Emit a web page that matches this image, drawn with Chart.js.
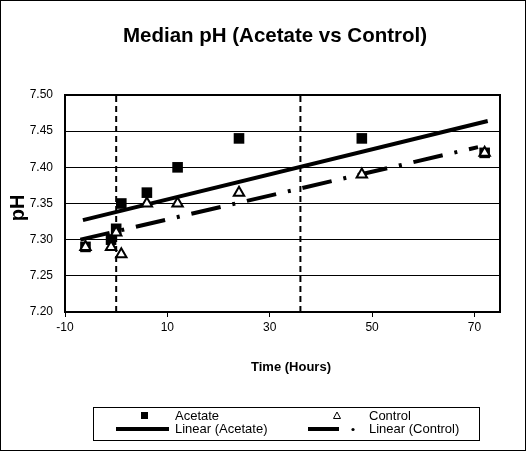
<!DOCTYPE html>
<html lang="en">
<head>
<meta charset="UTF-8">
<title>Median pH (Acetate vs Control)</title>
<script src="https://cdn.jsdelivr.net/npm/chart.js"></script>
<style>
  html, body { margin: 0; padding: 0; background: #fff; }
</style>
</head>
<body>
<canvas id="phChart" width="526" height="451"></canvas>
<script>
// values
const acetateHours = [-6, -1, 0, 1, 6, 12, 24, 48, 72];
const acetatePH = [7.29, 7.30, 7.315, 7.35, 7.365, 7.40, 7.44, 7.44, 7.42];
const controlHours = [-6, -1, 0, 1, 6, 12, 24, 48, 72];
const controlPH = [7.29, 7.29, 7.31, 7.28, 7.35, 7.35, 7.365, 7.39, 7.42];

// end points of the two trendlines
const acetateFitHours = [-6.5, 72.6];
const acetateFitPH = [7.327, 7.464];
const controlFitHours = [-7, 70.7];
const controlFitPH = [7.30, 7.428];

// dashed vertical marker lines
const markerHours = [0, 36];

const xTicks = [-10, 10, 30, 50, 70];
const yTicks = [7.20, 7.25, 7.30, 7.35, 7.40, 7.45, 7.50];

const FONT = "'Liberation Sans', Arial, sans-serif";
const CONTROL_DASH = [30, 12, 3, 12];

function pairs(xs, ys) {
    return xs.map((x, i) => ({ x: x, y: ys[i] }));
}

Chart.defaults.font.family = FONT;
Chart.defaults.color = '#000';

const markerSets = markerHours.map(h => ({
    type: 'line',
    data: [{ x: h, y: yTicks[0] }, { x: h, y: yTicks[yTicks.length - 1] }],
    borderColor: '#000',
    borderWidth: 2,
    borderDash: [6, 4],
    pointRadius: 0,
    order: 5
}));

// title, axis titles, plot frame and the boxed legend
const decorations = {
    id: 'decorations',
    beforeDraw(chart) {
        const ctx = chart.ctx;
        ctx.save();
        ctx.fillStyle = '#fff';
        ctx.fillRect(0, 0, chart.width, chart.height);
        ctx.restore();
    },
    afterDraw(chart) {
        const ctx = chart.ctx;
        const a = chart.chartArea;
        ctx.save();
        ctx.strokeStyle = '#000';
        ctx.fillStyle = '#000';

        ctx.lineWidth = 2;
        ctx.strokeRect(a.left, a.top, a.right - a.left, a.bottom - a.top);

        ctx.lineWidth = 1;
        ctx.strokeRect(0.5, 0.5, chart.width - 1, chart.height - 1);

        ctx.textAlign = 'center';
        ctx.textBaseline = 'middle';
        ctx.font = 'bold 20.5px ' + FONT;
        ctx.fillText('Median pH (Acetate vs Control)', 275, 36);

        ctx.font = 'bold 13px ' + FONT;
        ctx.fillText('Time (Hours)', 291, 367);

        ctx.save();
        ctx.translate(18, 208);
        ctx.rotate(-Math.PI / 2);
        ctx.font = 'bold 20px ' + FONT;
        ctx.fillText('pH', 0, 0);
        ctx.restore();

        // legend box
        ctx.strokeRect(93.5, 407.5, 386, 33);
        ctx.font = '13px ' + FONT;
        ctx.textAlign = 'left';
        ctx.fillText('Acetate', 175, 416);
        ctx.fillText('Control', 369, 416);
        ctx.fillText('Linear (Acetate)', 175, 429);
        ctx.fillText('Linear (Control)', 369, 429);

        ctx.fillRect(141, 412, 7, 7);

        ctx.beginPath();
        ctx.moveTo(337, 412);
        ctx.lineTo(340.5, 418.5);
        ctx.lineTo(333.5, 418.5);
        ctx.closePath();
        ctx.lineWidth = 1;
        ctx.stroke();

        ctx.lineWidth = 4;
        ctx.beginPath();
        ctx.moveTo(116, 429);
        ctx.lineTo(169, 429);
        ctx.stroke();

        ctx.beginPath();
        ctx.moveTo(308, 429);
        ctx.lineTo(339, 429);
        ctx.stroke();
        ctx.beginPath();
        ctx.arc(353, 429.5, 1.6, 0, Math.PI * 2);
        ctx.fill();
        ctx.restore();
    }
};

new Chart(document.getElementById('phChart'), {
    type: 'scatter',
    data: {
        datasets: [
            {
                label: 'Acetate',
                data: pairs(acetateHours, acetatePH),
                pointStyle: 'rect',
                pointRadius: 7.5,
                pointBackgroundColor: '#000',
                pointBorderColor: '#000',
                pointBorderWidth: 0,
                order: 2
            },
            {
                label: 'Control',
                data: pairs(controlHours, controlPH),
                pointStyle: 'triangle',
                pointRadius: 6,
                pointBackgroundColor: '#fff',
                pointBorderColor: '#000',
                pointBorderWidth: 2,
                order: 1
            },
            {
                type: 'line',
                label: 'Linear (Acetate)',
                data: pairs(acetateFitHours, acetateFitPH),
                borderColor: '#000',
                borderWidth: 4,
                pointRadius: 0,
                order: 3
            },
            {
                type: 'line',
                label: 'Linear (Control)',
                data: pairs(controlFitHours, controlFitPH),
                borderColor: '#000',
                borderWidth: 4,
                borderDash: CONTROL_DASH,
                pointRadius: 0,
                order: 4
            },
            ...markerSets
        ]
    },
    options: {
        responsive: false,
        animation: false,
        layout: { padding: { top: 95, right: 26, bottom: 71, left: 0 } },
        plugins: {
            legend: { display: false },
            tooltip: { enabled: false }
        },
        scales: {
            x: {
                type: 'linear',
                min: -10,
                max: 75,
                afterBuildTicks: s => { s.ticks = xTicks.map(v => ({ value: v })); },
                afterFit: s => { s.height = 68; },
                ticks: { font: { size: 12 }, padding: 3, maxRotation: 0 },
                grid: { drawOnChartArea: false, tickLength: 5, color: '#000', lineWidth: 1 },
                border: { color: '#000', width: 2 }
            },
            y: {
                min: yTicks[0],
                max: yTicks[yTicks.length - 1],
                afterBuildTicks: s => { s.ticks = yTicks.map(v => ({ value: v })); },
                afterFit: s => { s.width = 65; },
                ticks: {
                    font: { size: 12 },
                    padding: 12,
                    callback: v => v.toFixed(2)
                },
                grid: { color: '#000', lineWidth: 1, drawTicks: false },
                border: { color: '#000', width: 2 }
            }
        }
    },
    plugins: [decorations]
});
</script>
</body>
</html>
